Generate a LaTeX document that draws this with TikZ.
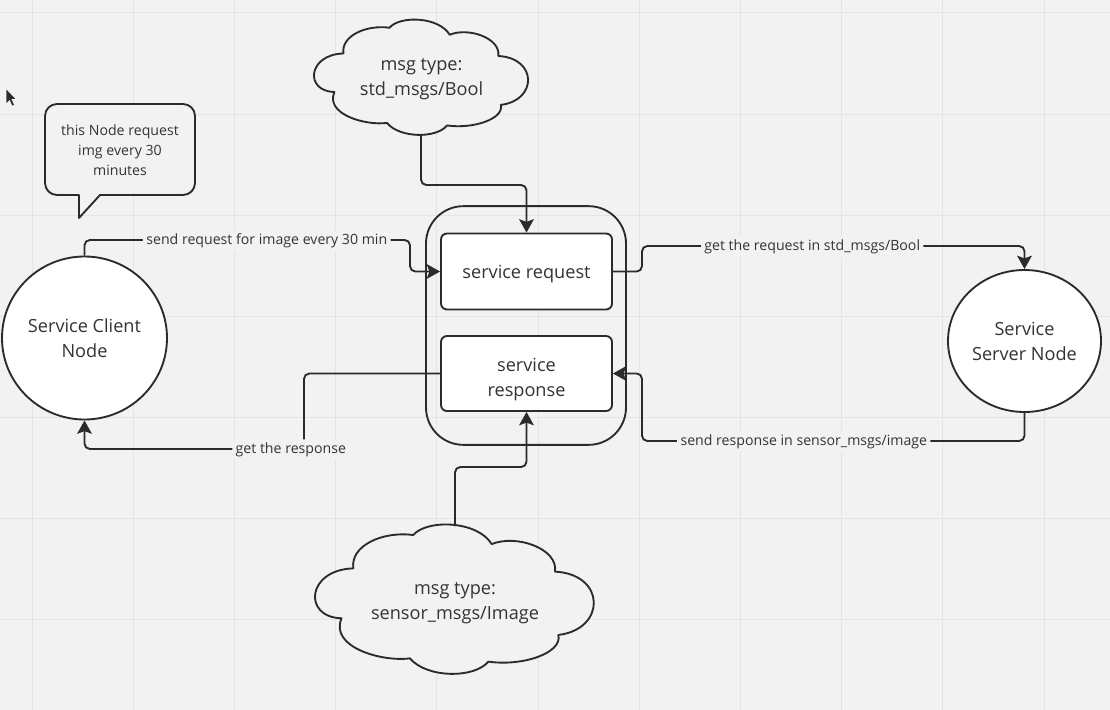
\documentclass[tikz,border=0pt]{standalone}
\usepackage{fontspec}
\setmainfont{Open Sans}
\usetikzlibrary{arrows.meta,shapes.geometric,calc}
\definecolor{bg}{HTML}{F2F2F2}
\definecolor{gridc}{HTML}{E4E4E4}
\definecolor{ink}{HTML}{2B2B2B}
\definecolor{txt}{HTML}{333333}
\newcommand\mycloudpath{%
  (0.095,0.626) .. controls (-0.045,0.62) and (-0.03,0.30) .. (0.137,0.291)
  .. controls (0.125,0.14) and (0.24,0.04) .. (0.351,0.067)
  .. controls (0.40,-0.04) and (0.58,-0.03) .. (0.631,0.128)
  .. controls (0.72,0.06) and (0.87,0.16) .. (0.857,0.313)
  .. controls (1.04,0.33) and (1.04,0.70) .. (0.869,0.738)
  .. controls (0.885,0.86) and (0.74,0.95) .. (0.619,0.917)
  .. controls (0.57,1.03) and (0.40,1.03) .. (0.339,0.895)
  .. controls (0.24,0.92) and (0.05,0.82) .. (0.095,0.626) -- cycle}
\begin{document}
\begin{tikzpicture}[x=0.75pt,y=-0.75pt,
  shape line/.style={draw=ink, line width=1.4pt},
  bigfont/.style={font=\fontsize{13.6pt}{18.75pt}\selectfont},
  circ/.style={shape line, ellipse, fill=white, align=center, text=txt, bigfont, inner sep=0pt},
  boxnode/.style={shape line, rectangle, rounded corners=4.5pt, fill=white, minimum width=128.25pt, inner sep=0pt},
  cloudline/.style={shape line, fill=bg, line join=round},
  cloudtext/.style={align=center, text=txt, bigfont, inner sep=0pt},
  conn/.style={draw=ink, line width=1.4pt, rounded corners=4pt, -{Stealth[length=10pt,width=11pt,inset=2pt]}},
  lbl/.style={fill=bg, text=txt, font=\fontsize{10.6pt}{12pt}\selectfont, inner sep=2.5pt},
  bubbletext/.style={align=center, text=txt, font=\fontsize{10.6pt}{15pt}\selectfont, inner sep=0pt}
]
\useasboundingbox (0,0) rectangle (1110,710);
\fill[bg] (0,0) rectangle (1110,710);
\foreach \k in {0,...,10} \draw[gridc, line width=0.75pt] ({32+101.2*\k},0) -- ({32+101.2*\k},710);
\foreach \k in {0,...,6} \draw[gridc, line width=0.75pt] (0,{13+101.1*\k}) -- (1110,{13+101.1*\k});

% cursor
\filldraw[fill=ink, draw=white, line width=0.4pt] (6,88.5) -- (6,104) -- (9.5,100.5) -- (12,106) -- (14.5,105) -- (12,99.5) -- (16.5,99.5) -- cycle;

% speech bubble
\filldraw[fill=bg, draw=ink, line width=1.4pt, line join=round]
  (79,195) -- (79,218) -- (100,195) -- (183,195) arc[start angle=90, end angle=0, radius=12] -- (195,116) arc[start angle=0, end angle=-90, radius=12] -- (57,104) arc[start angle=-90, end angle=-180, radius=12] -- (45,183) arc[start angle=180, end angle=90, radius=12] -- cycle;
\node[bubbletext] (bubble) at (120,150.5) {this Node request\\img every 30\\minutes};

% clouds
\begin{scope}[shift={(314,20)}, xscale=215, yscale=115]
  \draw[cloudline] \mycloudpath;
\end{scope}
\node[cloudtext] (cloudtop) at (421.5,79.5) {msg type:\\std\_msgs/Bool};
\coordinate (cloudtopS) at (421,134.5);
\begin{scope}[shift={(315,525)}, xscale=280, yscale=149]
  \draw[cloudline] \mycloudpath;
\end{scope}
\node[cloudtext] (cloudbot) at (455,603) {msg type:\\sensor\_msgs/Image};
\coordinate (cloudbotN) at (455,526);

% nodes
\node[circ, minimum width=123.75pt, minimum height=122.25pt] (client) at (84.5,338) {Service Client\\Node};
\node[circ, minimum width=114.75pt, minimum height=106.5pt] (server) at (1024.5,341) {Service\\Server Node};
\node[shape line, rectangle, rounded corners=28pt, minimum width=150pt, minimum height=179pt] (outer) at (526,325.5) {};
\node[boxnode, minimum height=57pt] (req) at (526.5,271.5) {};
\node[cloudtext] (reqtext) at ($(req.center)+(0,3)$) {service request};
\node[boxnode, minimum height=56.25pt] (resp) at (526.5,373.5) {};
\node[cloudtext] (resptext) at ($(resp.center)+(0,6)$) {service\\response};

% connectors
\draw[conn] (cloudtopS) -- (421,185) -- (req.north |- 0,185) -- (req.north);
\draw[conn] (client.north) -- (84.5,240) -- node[lbl, pos=0.56, yshift=-0.6pt] {send request for image every 30 min} (410,240) -- (req.west -| 410,0) -- (req.west);
\draw[conn] (req.east) -- (642,271.5) -- (642,246) -- node[lbl, pos=0.445, yshift=-0.6pt] {get the request in std\_msgs/Bool} (server.north |- 0,246) -- (server.north);
\draw[conn] (server.south) -- (1024.5,441) -- node[lbl, pos=0.577, yshift=-0.6pt] {send response in sensor\_msgs/image} (642,441) -- (642,373.5) -- (resp.east);
\draw[conn] (resp.west) -- (304,373.5) -- (304,449) -- node[lbl, pos=0.06, yshift=-0.6pt] {get the response} (84.5,449) -- (client.south);
\draw[conn] (cloudbotN) -- (455,467) -- (resp.south |- 0,467) -- (resp.south);
\end{tikzpicture}
\end{document}
